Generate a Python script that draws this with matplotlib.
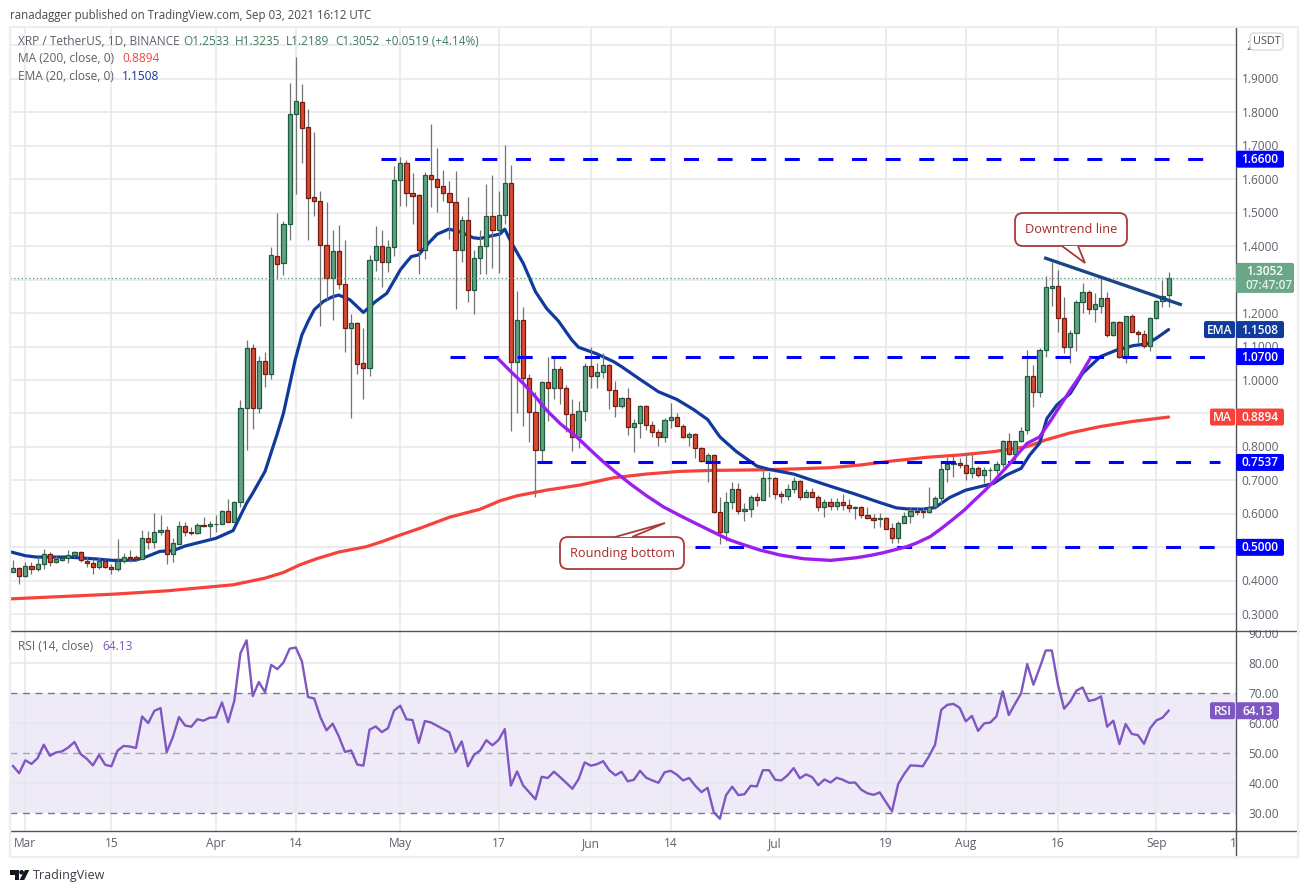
import matplotlib
matplotlib.use("Agg")
import matplotlib.pyplot as plt
import numpy as np
from matplotlib.patches import Rectangle, FancyBboxPatch, Polygon, Circle

plt.rcParams['font.family'] = ['Open Sans', 'DejaVu Sans']

# daily candles, first one is Feb 27 2021 (day -2, day 0 = Mar 1)
first_day = -2
open_ = [.427,.437,.415,.445,.436,.449,.481,.455,.463,.467,.476,.485,.46,.452,.44,.459,.44,.436,.46,.47,
         .47,.466,.527,.517,.545,.551,.481,.511,.563,.547,.543,.566,.563,.57,.571,.608,.577,.635,.916,1.095,
         .916,1.056,1.018,1.37,1.349,1.466,1.794,1.83,1.755,1.546,1.536,1.405,1.306,1.385,1.288,1.155,1.17,1.05,1.036,1.36,
         1.40,1.354,1.397,1.597,1.648,1.558,1.552,1.388,1.612,1.6,1.579,1.558,1.531,1.39,1.477,1.268,1.364,1.40,1.489,1.447,
         1.492,1.588,1.055,1.178,1.005,.903,.79,.993,.975,1.032,.975,.897,.831,.906,1.041,1.011,1.023,1.044,.969,.921,
         .945,.861,.873,.921,.867,.845,.83,.882,.891,.864,.83,.84,.796,.757,.775,.606,.547,.637,.673,.609,
         .616,.649,.642,.708,.706,.658,.654,.673,.697,.651,.664,.651,.622,.636,.624,.637,.628,.618,.62,.598,
         .589,.585,.587,.557,.529,.572,.593,.61,.608,.606,.621,.646,.733,.749,.751,.745,.723,.738,.715,.73,
         .732,.748,.817,.778,.817,.85,1.011,.965,1.089,1.276,1.282,1.184,1.098,1.142,1.232,1.262,1.213,1.222,1.244,1.134,
         1.172,1.07,1.19,1.145,1.139,1.101,1.184,1.235,1.2533]
high = [.462,.44,.455,.455,.47,.495,.485,.478,.472,.492,.49,.49,.47,.465,.47,.466,.45,.525,.484,.492,
        .477,.552,.55,.602,.597,.565,.528,.579,.576,.562,.572,.59,.579,.597,.611,.645,.638,.941,1.12,1.108,
        1.072,1.084,1.399,1.498,1.476,1.887,1.966,1.885,1.81,1.741,1.565,1.532,1.449,1.463,1.419,1.198,1.173,1.155,1.373,1.46,
        1.449,1.419,1.64,1.667,1.658,1.62,1.556,1.622,1.765,1.693,1.628,1.595,1.625,1.49,1.547,1.389,1.448,1.586,1.613,1.565,
        1.702,1.643,1.266,1.218,1.017,.965,.997,1.07,1.07,1.042,.984,.942,.937,1.05,1.098,1.05,1.08,1.047,.997,.948,
        .975,.885,.924,.924,.879,.855,.888,.93,.9,.87,.845,.843,.8,.781,.779,.649,.664,.694,.691,.634,
        .656,.661,.736,.726,.711,.668,.689,.711,.701,.673,.676,.656,.644,.648,.648,.659,.643,.625,.623,.622,
        .601,.603,.592,.574,.58,.606,.62,.621,.62,.679,.653,.755,.769,.776,.766,.781,.778,.743,.739,.741,
        .759,.821,.841,.819,.861,1.09,1.045,1.095,1.311,1.352,1.329,1.247,1.15,1.239,1.289,1.269,1.259,1.311,1.264,1.177,
        1.177,1.192,1.196,1.15,1.15,1.187,1.24,1.299,1.3235]
low = [.425,.39,.412,.42,.43,.435,.445,.452,.46,.454,.47,.456,.44,.42,.435,.437,.42,.428,.452,.457,
       .458,.464,.496,.497,.537,.45,.455,.509,.534,.537,.541,.56,.527,.546,.57,.575,.575,.62,.792,.855,
       .90,.98,1.004,1.303,1.314,1.417,1.556,1.648,1.417,1.49,1.16,1.24,1.178,1.273,1.085,.886,1.017,.943,1.013,1.327,
       1.279,1.324,1.372,1.52,1.52,1.466,1.317,1.363,1.517,1.502,1.536,1.421,1.212,1.354,1.234,1.197,1.317,1.317,1.335,1.321,
       1.466,.849,.9,.863,.816,.649,.753,.878,.944,.928,.844,.789,.796,.878,.975,.975,1.005,.914,.89,.915,
       .837,.784,.828,.852,.83,.804,.815,.858,.864,.828,.803,.766,.755,.696,.603,.509,.52,.614,.6,.578,
       .59,.623,.641,.649,.643,.633,.641,.663,.641,.649,.651,.608,.592,.611,.613,.611,.606,.585,.587,.585,
       .559,.562,.554,.514,.514,.572,.574,.597,.589,.603,.616,.631,.696,.711,.736,.7,.708,.711,.691,.698,
       .719,.741,.776,.756,.815,.84,.92,.948,1.068,1.221,1.145,1.08,1.05,1.088,1.2,1.197,1.174,1.2,1.13,1.132,
       1.065,1.05,1.144,1.112,1.095,1.088,1.181,1.219,1.2189]
close = [.437,.415,.445,.436,.449,.481,.455,.465,.467,.476,.486,.462,.452,.44,.459,.44,.436,.46,.47,.468,
         .466,.527,.517,.545,.552,.481,.512,.563,.547,.543,.566,.563,.571,.571,.608,.577,.635,.916,1.095,.916,
         1.056,1.018,1.373,1.348,1.466,1.794,1.833,1.754,1.545,1.536,1.405,1.306,1.385,1.288,1.155,1.17,1.048,1.036,1.36,1.40,
         1.354,1.397,1.597,1.648,1.558,1.551,1.388,1.612,1.6,1.576,1.558,1.533,1.388,1.477,1.268,1.364,1.40,1.489,1.447,1.492,
         1.588,1.055,1.178,1.005,.903,.79,.993,.975,1.032,.975,.897,.831,.906,1.041,1.011,1.023,1.044,.969,.921,.945,
         .861,.873,.921,.867,.845,.83,.882,.891,.864,.83,.84,.796,.757,.775,.606,.547,.637,.673,.609,.616,
         .649,.642,.706,.708,.658,.654,.673,.697,.651,.664,.651,.622,.637,.624,.637,.627,.618,.62,.598,.588,
         .582,.587,.556,.529,.572,.593,.61,.606,.606,.621,.646,.733,.748,.751,.745,.723,.738,.715,.73,.732,
         .748,.817,.778,.817,.849,1.011,.965,1.089,1.277,1.282,1.184,1.098,1.142,1.232,1.262,1.213,1.226,1.244,1.134,1.172,
         1.07,1.19,1.145,1.139,1.101,1.184,1.235,1.252,1.3052]

rsi = [45.7,43.3,47.6,46.4,48.3,52.8,49.1,50.2,50.6,51.9,53.7,49.7,48.1,45.9,49.4,46.1,45.6,50.8,52.4,52.2,
       51.7,62.2,60,64.1,65,50.3,55.3,62,59.2,58.8,61.3,60.8,61.8,61.9,66.9,60.3,67.4,83.3,87.6,69,
       73.7,70.3,79.4,78,80.2,84.8,85.2,80.6,68.7,68.2,62,57.6,59.8,55.6,50.4,50.9,46.2,45.8,57.8,58.9,
       57,58.3,64.2,65.8,61.3,61,53.4,60.7,60.2,59.1,58,56.9,50.3,53.9,45.6,49.4,50.9,54.3,52.6,54.4,
       58,39.2,43.9,39.2,36.9,34.6,42.1,41.7,43.8,42,40.1,38.1,41.3,46.9,45.8,46.3,47.3,44.3,42.6,43.8,
       40.6,41.1,44.1,41.8,40.9,40.1,43.6,44.1,42.8,40.9,41.7,39.1,37,38.4,30.3,28.1,36,38.8,36,36.3,
       39.1,38.9,44.3,44.3,41.1,40.9,42.6,45,41.6,42.9,42,39.3,41.2,40.2,41.8,41.1,40.1,40.2,37.8,36.6,
       36.1,36.9,33.7,30.6,39.7,43.1,45.9,45.8,45.6,48.9,52.8,64.4,66.1,66.4,65.1,60.6,62.4,57.4,59.9,60.2,
       62.3,70.6,62.7,66.4,69.9,79.7,72.8,78.3,84.2,84.2,72.8,64.8,67.2,70.8,71.9,67.4,67.8,68.9,58.8,60.8,
       53,59.7,56.4,56,53.1,58.3,60.9,61.8,64.13]

ema_days = [-2.5,0,1.8,6.7,11,14.3,18,19.7,21.9,24,26,31,33.8,36,37,39,41,42,43,43.9,45,46,47,48.5,50,51,52.8,55,57,58.8,60,61,62,62.8,64,65.6,
            67,68.9,70.7,72.9,74,75.6,77.2,78,79,81,83,84.8,86.7,88.9,90,93,95.7,97,100,103,106,108.7,111,113,115.7,119,
            121,125,127.6,130.9,134.7,139,141.7,143.4,146,148,150.4,153,157.5,159.6,162,163.4,165,166.2,167.8,170,172,
            174.9,177.6,180.3,182.5,184,186]
ema_vals = [.487,.475,.471,.471,.466,.461,.462,.472,.488,.49,.504,.527,.55,.632,.662,.727,.84,.901,.985,1.06,1.135,1.175,1.21,1.235,1.249,1.254,1.24,1.202,1.235,1.259,1.297,1.329,1.352,1.369,1.374,1.409,
            1.436,1.451,1.443,1.425,1.423,1.43,1.436,1.451,1.413,1.349,1.264,1.214,1.177,1.12,1.098,1.078,1.055,1.04,1.002,.965,.942,.912,.882,.83,.786,.743,
            .733,.719,.703,.683,.661,.634,.618,.615,.614,.619,.649,.671,.691,.716,.736,.776,.811,.885,.925,.96,1.02,
            1.07,1.09,1.103,1.108,1.125,1.1508]

ma_days = [-2.5,14.3,23,33.8,39,42,44.7,47.4,51,55.5,58,61,64.2,69,74,77.2,80,84.8,90.2,95.7,101,106.5,112,117.4,122.8,131,135.8,
           141,146.6,152,157.5,163,166,170,174.9,180,186]
ma_vals = [.346,.36,.37,.388,.408,.425,.448,.466,.486,.502,.517,.537,.557,.59,.614,.639,.654,.671,.686,.708,.719,.727,.73,.731,.733,.738,.746,
           .758,.769,.776,.786,.801,.821,.842,.861,.876,.8894]

# hand drawn rounding bottom and trend line
arc_days = [77,79,81,83,84.8,87,89.7,92,94,96,98.4,101,103.8,106.5,109,112,114.6,117,119.5,122.8,126.6,131,135.2,137.5,139.6,
            143.4,145,147.2,149,151,152.8,154.2,156,157.5,159,160.2,161.5,163,165,167,170,171.5,173.2]
arc_vals = [1.062,1.025,.99,.95,.91,.87,.83,.79,.756,.725,.69,.655,.621,.595,.572,.545,.522,.507,.492,.477,.466,.461,.469,.476,.484,
            .502,.513,.532,.556,.585,.612,.637,.668,.696,.727,.751,.78,.811,.83,.884,.97,1.01,1.063]
trend_days = [166,187.9]
trend_vals = [1.364,1.226]

# level, first day of the dashed line
levels = [1.66, 1.07, .7537, .5]
level_start = [57.9, 69.1, 83.2, 109]

price_ticks = [.3,.4,.5,.6,.7,.8,.9,1.0,1.1,1.2,1.3,1.4,1.5,1.6,1.7,1.8,1.9,2.0]
rsi_ticks = [30,40,50,60,70,80,90]
time_days = [0,14,31,44,61,77,92,105,122,140,153,168,184]
time_labels = ['Mar','15','Apr','14','May','17','Jun','14','Jul','19','Aug','16','Sep']

GRID = '#e7e7ea'
TXT = '#5d606b'
UP, UP_EDGE = '#62a283', '#1e5a3e'
DOWN, DOWN_EDGE = '#d94a33', '#701c12'
BLUE_EMA, RED_MA, PURPLE = '#103a9c', '#f6423a', '#7e57c2'

W, H = 1308, 893
fig = plt.figure(figsize=(W/100, H/100), dpi=100, facecolor='white')


def axes_box(x0, y0, x1, y1):
    return [x0/W, 1-y1/H, (x1-x0)/W, (y1-y0)/H]


ax = fig.add_axes(axes_box(10, 28, 1236, 630.5))
ax2 = fig.add_axes(axes_box(10, 630.5, 1236, 830.5))
xlim = (-2.49, 196.96)
for a in (ax, ax2):
    a.set_xlim(*xlim)
    a.set_xticks(time_days)
    a.set_xticklabels([])
    a.tick_params(length=0, labelleft=False)
    a.grid(True, color=GRID, lw=1.1, zorder=0)
    a.set_axisbelow(True)
    for s in a.spines.values():
        s.set_visible(False)

ax.set_ylim(.2515, 2.052)
ax.set_yticks(price_ticks)
ax2.set_ylim(24.2, 90.87)
ax2.set_yticks([40, 60, 80])

days = np.arange(first_day, first_day+len(close))
o, h, l, c = map(np.array, (open_, high, low, close))
up = c >= o

ax.plot(ma_days, ma_vals, color=RED_MA, lw=2.3, zorder=2, solid_capstyle='round', solid_joinstyle='round')
ax.plot(ema_days, ema_vals, color=BLUE_EMA, lw=2.3, zorder=2, solid_capstyle='round', solid_joinstyle='round')
ax.vlines(days, l, h, color='#737373', lw=0.9, zorder=3)
ax.bar(days, np.abs(c-o), bottom=np.minimum(o, c), width=.68,
       color=[UP if u else DOWN for u in up],
       edgecolor=[UP_EDGE if u else DOWN_EDGE for u in up], lw=0.9, zorder=3)
ax.axhline(close[-1], color='#4f9a76', lw=0.9, ls=(0, (1, 2)), zorder=3)

for lev, start in zip(levels, level_start):
    ax.plot([start, 194.3], [lev, lev], color='#0000ff', lw=2.2, zorder=4,
            ls=(0, (4.9, 6.1)), dash_capstyle='butt')
ax.plot(arc_days, arc_vals, color='#9c1ff0', lw=2.4, zorder=5, solid_joinstyle='round')
ax.plot(trend_days, trend_vals, color='#1c4587', lw=2.4, zorder=5)

ax2.axhspan(30, 70, color='#7e57c2', alpha=.12, lw=0, zorder=0)
ax2.axhline(70, color='#787b86', lw=1, ls=(0, (5, 4)), zorder=1)
ax2.axhline(50, color='#a5a5ae', lw=1, ls=(0, (5, 4)), zorder=1)
ax2.axhline(30, color='#787b86', lw=1, ls=(0, (5, 4)), zorder=1)
ax2.plot(days, rsi, color=PURPLE, lw=1.7, zorder=3)

# overlay in pixels for the labels, frame and callouts
over = fig.add_axes([0, 0, 1, 1], facecolor='none')
over.set_xlim(0, W)
over.set_ylim(H, 0)
over.axis('off')


def price_y(a, v):
    return H - a.transData.transform((0, v))[1]


for v in price_ticks:
    if v == 1.3:
        continue
    if v == 2.0:
        # rest of this label is under the USDT box
        over.text(1246, price_y(ax, v)+1, '2', ha='left', va='center', color=TXT, fontsize=8.6, zorder=2)
        continue
    over.text(1279, price_y(ax, v)+1, '%.4f' % v, ha='right', va='center', color=TXT, fontsize=8.6, zorder=2)
for v in rsi_ticks:
    over.text(1279, price_y(ax2, v)+1, '%.2f' % v, ha='right', va='center', color=TXT, fontsize=8.6, zorder=2)
over.add_patch(Rectangle((1238, 620), 58, 10, fc='white', ec='none', zorder=3))

for d, t in zip(time_days, time_labels):
    x = ax.transData.transform((d, 0))[0]
    over.text(x, 843.5, t, ha='center', va='center', color=TXT, fontsize=8.6)
over.text(1233, 843.5, '1', ha='center', va='center', color=TXT, fontsize=8.6)


def tag(y, x0, x1, color, text, h=17, size=8.6, weight='semibold'):
    over.add_patch(FancyBboxPatch((x0+1, y-h/2+1), x1-x0-2, h-2, boxstyle='round,pad=1,rounding_size=2',
                                  fc=color, ec='none', zorder=6))
    over.text((x0+x1)/2, y+.5, text, ha='center', va='center', color='white', fontsize=size,
              fontweight=weight, zorder=7)


over.add_patch(FancyBboxPatch((1253, 36), 27, 11, boxstyle='round,pad=3,rounding_size=4',
                              fc='white', ec='#d6d6de', lw=.9, zorder=6))
over.text(1266.5, 42, 'USDT', ha='center', va='center', color='#4a4a4a', fontsize=7.8, zorder=7)

for lev in levels:
    tag(price_y(ax, lev), 1236, 1284, '#0000ff', '%.4f' % lev)
y_ema = price_y(ax, ema_vals[-1])
y_ma = price_y(ax, ma_vals[-1])
tag(y_ema, 1236, 1284, BLUE_EMA, '%.4f' % ema_vals[-1])
tag(y_ema, 1204, 1235, BLUE_EMA, 'EMA')
tag(y_ma, 1236, 1284, RED_MA, '%.4f' % ma_vals[-1])
tag(y_ma, 1210, 1235, RED_MA, 'MA')
tag(price_y(ax2, rsi[-1]), 1236, 1279, PURPLE, '%.2f' % rsi[-1])
tag(price_y(ax2, rsi[-1]), 1210, 1235, PURPLE, 'RSI')

y_last = price_y(ax, close[-1])
over.add_patch(FancyBboxPatch((1237, y_last-14), 56, 28, boxstyle='round,pad=1,rounding_size=2',
                              fc='#6aa688', ec='none', zorder=6))
over.text(1246, y_last-6, '%.4f' % close[-1], va='center', color='white', fontsize=8.6, fontweight='semibold', zorder=7)
over.text(1246, y_last+7.5, '07:47:07', va='center', color='#e4efe9', fontsize=8.6, fontweight='semibold', zorder=7)


def callout(x0, y0, x1, y1, base0, base1, tip, text):
    edge = '#a83a3a'
    over.add_patch(FancyBboxPatch((x0+5, y0+5), x1-x0-10, y1-y0-10, boxstyle='round,pad=5,rounding_size=8',
                                  fc='white', ec=edge, lw=1.3, zorder=8))
    over.add_patch(Polygon([(base0, y0 if tip[1] < y0 else y1), tip, (base1, y0 if tip[1] < y0 else y1)],
                           closed=False, fc='white', ec=edge, lw=1.3, zorder=9))
    over.text((x0+x1)/2, (y0+y1)/2, text, ha='center', va='center', color='#a52a2a', fontsize=9.2, zorder=10)


callout(1015, 213, 1127, 246, 1062, 1078, (1085, 263), 'Downtrend line')
callout(560, 537, 684, 569, 615, 632, (665, 523), 'Rounding bottom')

# legend rows
over.text(10, 15, 'ranadagger published on TradingView.com, Sep 03, 2021 16:12 UTC', va='center',
          color='#4a4a4a', fontsize=8.3)
over.text(18, 41.5, 'XRP / TetherUS, 1D, BINANCE', va='center', color=TXT, fontsize=8.6, zorder=7)
ohlc_green = '#3e7c5e'
for x, t in zip([183, 235, 286, 335, 385],
                ['O%.4f' % o[-1], 'H%.4f' % h[-1], 'L%.4f' % l[-1], 'C%.4f' % c[-1], '+0.0519 (+4.14%)']):
    over.text(x, 41.5, t, va='center', color=ohlc_green, fontsize=8.5, zorder=7)
over.text(18, 59, 'MA (200, close, 0)', va='center', color=TXT, fontsize=8.6, zorder=7)
over.text(122, 59, '%.4f' % ma_vals[-1], va='center', color=RED_MA, fontsize=8.6, zorder=7)
over.text(18, 76, 'EMA (20, close, 0)', va='center', color=TXT, fontsize=8.6, zorder=7)
over.text(122, 76, '%.4f' % ema_vals[-1], va='center', color=BLUE_EMA, fontsize=8.6, zorder=7)
over.text(18, 646, 'RSI (14, close)', va='center', color=TXT, fontsize=8.6, zorder=7)
over.text(102, 646, '%.2f' % rsi[-1], va='center', color=PURPLE, fontsize=8.6, zorder=7)

# panes and frame
sep = '#50535e'
over.plot([10, 1298], [630.5, 630.5], color=sep, lw=1, zorder=5)
over.plot([10, 1298], [830.5, 830.5], color=sep, lw=1, zorder=5)
over.plot([1236, 1236], [28, 857], color=sep, lw=1, zorder=5)
over.add_patch(Rectangle((9.5, 27), 1288.5, 830, fc='none', ec='#edeef3', lw=1.6, zorder=5))

# TradingView mark
over.add_patch(Polygon([(10, 870), (19, 870), (19, 880), (14.5, 880), (14.5, 874.5), (10, 874.5)], fc='#131722', ec='none'))
over.add_patch(Circle((21.6, 872.3), 2.3, fc='#131722', ec='none'))
over.add_patch(Polygon([(19.5, 880), (24.2, 880), (29.3, 870), (25, 870)], fc='#131722', ec='none'))
over.text(33, 875, 'TradingView', va='center', color='#3a3d46', fontsize=9)

fig.savefig('out.png', dpi=100, facecolor='white')
